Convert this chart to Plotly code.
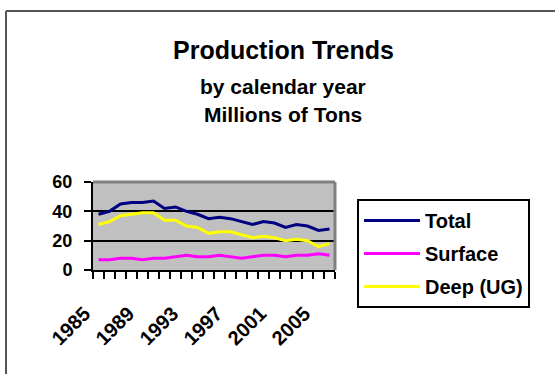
import plotly.graph_objects as go

years = list(range(1985, 2007))
total = [38, 40, 45, 46, 46, 47, 42, 43, 40, 38, 35, 36, 35, 33, 31, 33, 32, 29, 31, 30, 27, 28]
surface = [7, 7, 8, 8, 7, 8, 8, 9, 10, 9, 9, 10, 9, 8, 9, 10, 10, 9, 10, 10, 11, 10]
deep = [31, 33, 37, 38, 39, 39, 34, 34, 30, 29, 25, 26, 26, 24, 22, 23, 22, 20, 21, 20, 16, 18]
label_years = [1985, 1989, 1993, 1997, 2001, 2005]

FONT = "Liberation Sans, Arial, sans-serif"
W, H = 555, 374
L, R, T, B = 93, 335, 182, 270  # plot area in px


def px_x(x):
    return (x - L) / (R - L)


def px_y(y):
    return (B - y) / (B - T)


fig = go.Figure()
for name, vals, col in [("Total", total, "#000080"),
                        ("Surface", surface, "#FF00FF"),
                        ("Deep (UG)", deep, "#FFFF00")]:
    fig.add_trace(go.Scatter(x=years, y=vals, mode="lines", name=name,
                             legendgroup=name,
                             line=dict(color=col, width=3)))

fig.update_layout(
    width=W, height=H,
    margin=dict(l=L, r=W - R, t=T, b=H - B, pad=0, autoexpand=False),
    paper_bgcolor="white",
    plot_bgcolor="#C0C0C0",
    font=dict(family=FONT, color="black", size=18, weight="bold"),
    showlegend=True,
    legend=dict(x=px_x(357), y=(H - 199) / H, yref="container",
                xanchor="left", yanchor="top", maxheight=300,
                bordercolor="black", borderwidth=2, bgcolor="white",
                font=dict(size=20, family=FONT, weight="bold"),
                tracegroupgap=4, itemwidth=56),
)

fig.update_xaxes(
    range=[1984.5, 2006.5], showgrid=False, zeroline=False, automargin=False,
    showline=True, linecolor="black", linewidth=2,
    tickmode="array", tickvals=label_years, ticktext=[str(y) for y in label_years],
    ticks="", tickangle=-45,
    tickfont=dict(size=20, family=FONT, weight="bold"),
    ticklabelstandoff=22, ticklabelshift=-14,
    minor=dict(tick0=1984.5, dtick=1, ticks="outside", ticklen=7,
               tickwidth=2, tickcolor="black", showgrid=False),
)
fig.update_yaxes(
    range=[0, 60], dtick=20, showgrid=True, gridcolor="black", gridwidth=2,
    zeroline=False, showline=True, linecolor="black", linewidth=2, automargin=False,
    ticks="outside", ticklen=7, tickwidth=2, tickcolor="black",
    tickfont=dict(size=18, family=FONT, weight="bold"),
    ticklabelstandoff=8,
)

# gray plot border top/right
fig.add_shape(type="line", xref="paper", yref="paper", x0=0, x1=1, y0=1, y1=1,
              line=dict(color="#808080", width=3))
fig.add_shape(type="line", xref="paper", yref="paper", x0=1, x1=1, y0=0, y1=1,
              line=dict(color="#808080", width=3))
# outer chart frame
fig.add_shape(type="line", xref="paper", yref="paper", x0=px_x(6), x1=px_x(6),
              y0=px_y(11), y1=px_y(380), line=dict(color="#555555", width=2))
fig.add_shape(type="line", xref="paper", yref="paper", x0=px_x(6), x1=px_x(560),
              y0=px_y(11), y1=px_y(11), line=dict(color="#555555", width=2))

titles = [("Production Trends", 25, 50), ("by calendar year", 21, 86),
          ("Millions of Tons", 21, 114)]
for txt, sz, yy in titles:
    fig.add_annotation(text=txt, xref="paper", yref="paper", x=px_x(283), y=px_y(yy),
                       xanchor="center", yanchor="middle", showarrow=False,
                       font=dict(size=sz, family=FONT, weight="bold", color="black"))

fig.write_html("out.html")
